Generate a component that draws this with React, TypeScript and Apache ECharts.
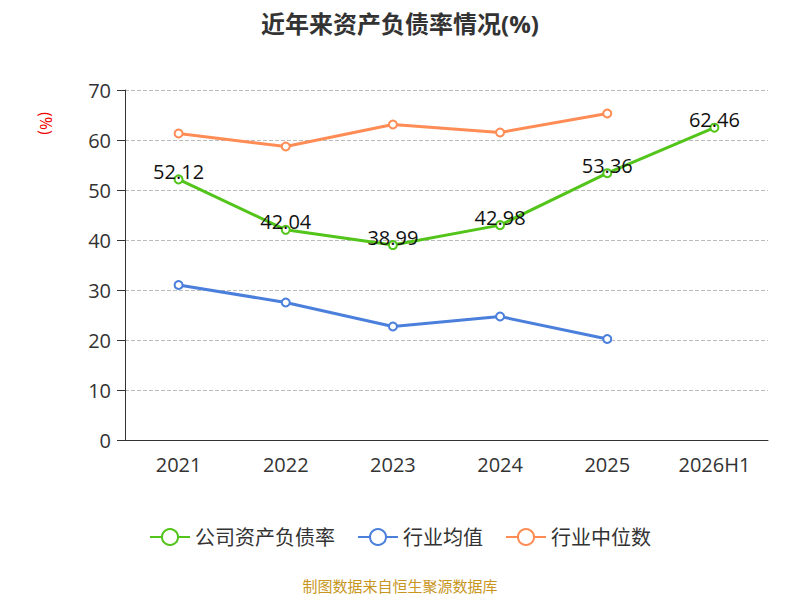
import React, { useEffect, useRef } from "react";
import * as echarts from "echarts";

const categories = ["2021", "2022", "2023", "2024", "2025", "2026H1"];
const companyRate = [52.12, 42.04, 38.99, 42.98, 53.36, 62.46];
const industryAvg = [31.0, 27.5, 22.7, 24.7, 20.2, null];
const industryMedian = [61.3, 58.7, 63.1, 61.5, 65.3, null];

export default function App() {
  const ref = useRef<HTMLDivElement>(null);
  useEffect(() => {
    document.body.style.margin = "0";
    const chart = echarts.init(ref.current!, null, { renderer: "svg" });
    const font = "'Open Sans', 'Noto Sans CJK SC', sans-serif";
    chart.setOption({
      animation: false,
      textStyle: { fontFamily: font },
      title: {
        text: "近年来资产负债率情况(%)",
        left: "center",
        top: 6,
        textStyle: { fontSize: 24, fontWeight: "bold", color: "#333", fontFamily: font },
      },
      grid: { left: 125, right: 32, top: 90, bottom: 160 },
      legend: {
        bottom: 48,
        itemWidth: 40,
        itemHeight: 20,
        itemGap: 22,
        textStyle: { fontSize: 20, color: "#333" },
        data: ["公司资产负债率", "行业均值", "行业中位数"],
      },
      graphic: [
        {
          type: "text",
          left: "center",
          top: 578,
          style: { text: "制图数据来自恒生聚源数据库", fill: "#c8961e", fontSize: 15, fontFamily: font },
        },
        {
          type: "text",
          x: 54,
          y: 112,
          rotation: -Math.PI / 2,
          style: { text: "(%)", fill: "#e00", fontSize: 16, fontFamily: font },
        },
      ],
      xAxis: {
        type: "category",
        data: categories,
        axisLine: { lineStyle: { color: "#333" } },
        axisTick: { length: 8, lineStyle: { color: "#333" } },
        axisLabel: { fontSize: 20, color: "#333", margin: 14 },
      },
      yAxis: {
        type: "value",
        min: 0,
        max: 70,
        interval: 10,
        axisLine: { show: true, lineStyle: { color: "#333" } },
        axisTick: { show: true, length: 8, lineStyle: { color: "#333" } },
        axisLabel: { fontSize: 20, color: "#333", margin: 14 },
        splitLine: { lineStyle: { type: "dashed", color: "#bbb" } },
      },
      series: [
        {
          name: "公司资产负债率",
          type: "line",
          data: companyRate,
          color: "#52c41a",
          symbol: "circle",
          symbolSize: 8,
          itemStyle: { color: "#fff", borderColor: "#52c41a", borderWidth: 2 },
          lineStyle: { color: "#52c41a", width: 3 },
          label: { show: true, position: "top", fontSize: 20, color: "#111", offset: [0, 12] },
          z: 3,
        },
        {
          name: "行业均值",
          type: "line",
          data: industryAvg,
          color: "#4a7fdc",
          symbol: "circle",
          symbolSize: 8,
          itemStyle: { color: "#fff", borderColor: "#4a7fdc", borderWidth: 2 },
          lineStyle: { color: "#4a7fdc", width: 3 },
        },
        {
          name: "行业中位数",
          type: "line",
          data: industryMedian,
          color: "#ff8c55",
          symbol: "circle",
          symbolSize: 8,
          itemStyle: { color: "#fff", borderColor: "#ff8c55", borderWidth: 2 },
          lineStyle: { color: "#ff8c55", width: 3 },
        },
      ],
    });
    return () => chart.dispose();
  }, []);
  return <div ref={ref} style={{ width: 800, height: 600 }} />;
}
